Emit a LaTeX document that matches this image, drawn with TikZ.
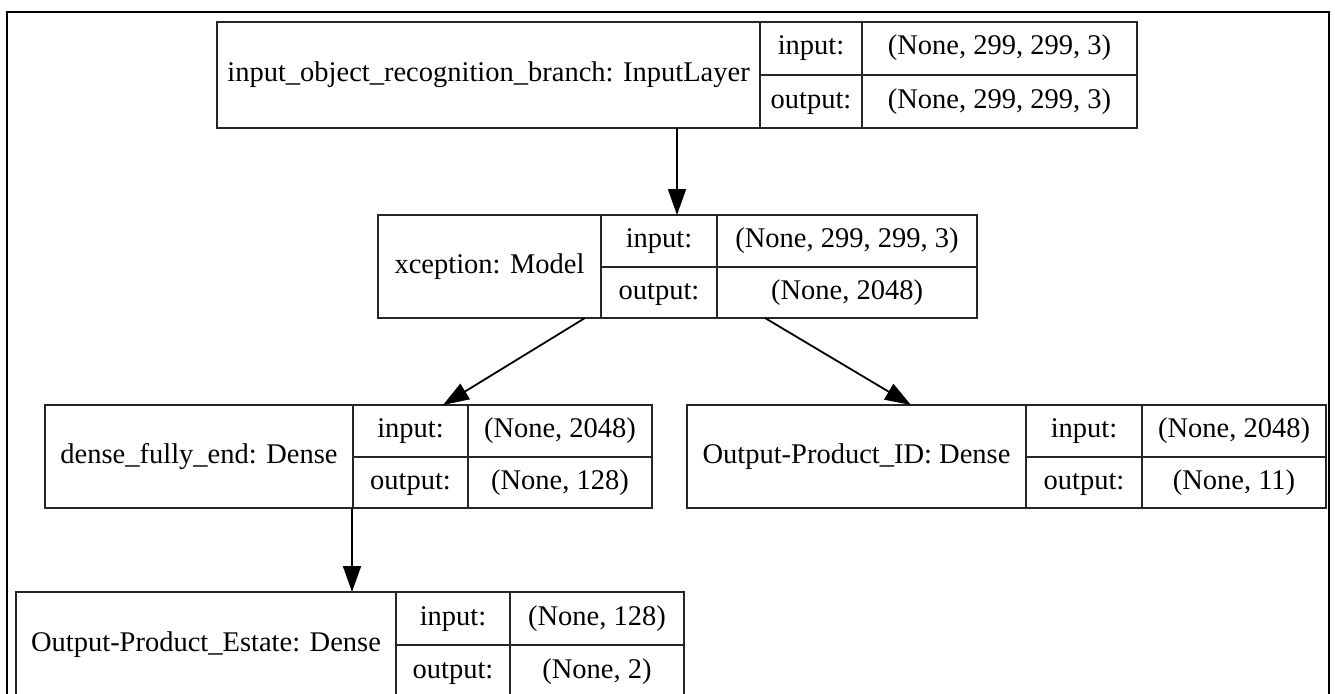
\documentclass[tikz,border=0pt]{standalone}
\usepackage{fontspec}
\setmainfont{Liberation Serif}
\usetikzlibrary{arrows.meta}
\begin{document}
\begin{tikzpicture}[x=1pt,y=-1pt,
  cell/.style={draw=black!85, line width=1.8pt, inner sep=0pt, outer sep=0pt, anchor=north west,
    text height=19pt, text depth=6pt, font=\fontsize{28.5}{34}\selectfont},
  frame/.style={draw=black, line width=2pt},
  arr/.style={draw=black, line width=1.8pt, -{Triangle[length=26pt,width=18pt]}}]
\clip (0,0) rectangle (1335,693);
\fill[white] (0,0) rectangle (1335,693);
\draw[frame] (7,12) rectangle (1329,720);
% top box
\node[cell, minimum width=543, minimum height=106] (A) at (217,22) {input\_object\_recognition\_branch: InputLayer};
\node[cell, minimum width=102, minimum height=53] (Ain) at (760,22) {input:};
\node[cell, minimum width=275, minimum height=53] (Ainv) at (862,22) {(None, 299, 299, 3)};
\node[cell, minimum width=102, minimum height=53] (Aout) at (760,75) {output:};
\node[cell, minimum width=275, minimum height=53] (Aoutv) at (862,75) {(None, 299, 299, 3)};
% xception
\node[cell, minimum width=223, minimum height=103] (B) at (378,215) {xception: Model};
\node[cell, minimum width=116, minimum height=52] (Bin) at (601,215) {input:};
\node[cell, minimum width=260, minimum height=52] (Binv) at (717,215) {(None, 299, 299, 3)};
\node[cell, minimum width=116, minimum height=51] (Bout) at (601,267) {output:};
\node[cell, minimum width=260, minimum height=51] (Boutv) at (717,267) {(None, 2048)};
% dense_fully_end
\node[cell, minimum width=308, minimum height=103] (C) at (45,405) {dense\_fully\_end: Dense};
\node[cell, minimum width=115, minimum height=52] (Cin) at (353,405) {input:};
\node[cell, minimum width=184, minimum height=52] (Cinv) at (468,405) {(None, 2048)};
\node[cell, minimum width=115, minimum height=51] (Cout) at (353,457) {output:};
\node[cell, minimum width=184, minimum height=51] (Coutv) at (468,457) {(None, 128)};
% Output-Product_ID
\node[cell, minimum width=339, minimum height=103] (D) at (687,405) {Output-Product\_ID: Dense};
\node[cell, minimum width=116, minimum height=52] (Din) at (1026,405) {input:};
\node[cell, minimum width=184, minimum height=52] (Dinv) at (1142,405) {(None, 2048)};
\node[cell, minimum width=116, minimum height=51] (Dout) at (1026,457) {output:};
\node[cell, minimum width=184, minimum height=51] (Doutv) at (1142,457) {(None, 11)};
% Output-Product_Estate
\node[cell, minimum width=380, minimum height=106] (E) at (16,592) {Output-Product\_Estate: Dense};
\node[cell, minimum width=114, minimum height=53] (Ein) at (396,592) {input:};
\node[cell, minimum width=174, minimum height=53] (Einv) at (510,592) {(None, 128)};
\node[cell, minimum width=114, minimum height=53] (Eout) at (396,645) {output:};
\node[cell, minimum width=174, minimum height=53] (Eoutv) at (510,645) {(None, 2)};
% connector endpoints
\coordinate (a1) at (677,128);
\coordinate (b0) at (677,215);
\coordinate (b1) at (585,318);
\coordinate (b2) at (765,318);
\coordinate (c0) at (443,405);
\coordinate (d0) at (911,405);
\coordinate (c1) at (352,508);
\coordinate (e0) at (352,592);
\draw[arr] (a1) -- (b0);
\draw[arr] (b1) -- (c0);
\draw[arr] (b2) -- (d0);
\draw[arr] (c1) -- (e0);
\end{tikzpicture}
\end{document}
